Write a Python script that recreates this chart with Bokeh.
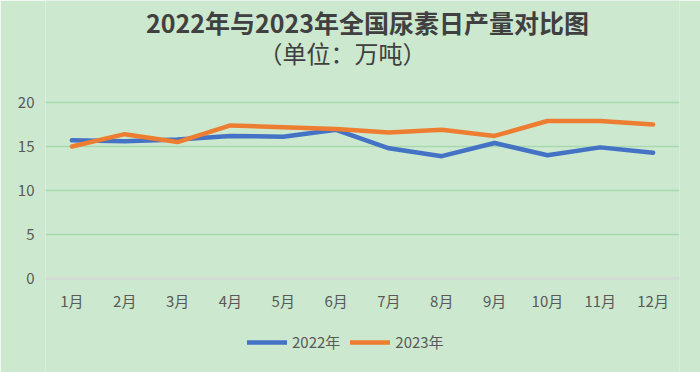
from bokeh.plotting import figure
from bokeh.models import Legend, LegendItem, Label, FactorRange, Span
from bokeh.core.properties import value
from bokeh.embed import file_html
from bokeh.resources import INLINE

months = ["1月", "2月", "3月", "4月", "5月", "6月", "7月", "8月", "9月", "10月", "11月", "12月"]
y2022 = [15.7, 15.6, 15.8, 16.2, 16.1, 16.9, 14.8, 13.9, 15.4, 14.0, 14.9, 14.3]
y2023 = [15.0, 16.4, 15.5, 17.4, 17.2, 17.0, 16.6, 16.9, 16.2, 17.9, 17.9, 17.5]
yticks = [0, 5, 10, 15, 20]
title1 = "2022年与2023年全国尿素日产量对比图"
title2 = "（单位：万吨）"

BG = "#CCE8CF"
FONT = "Noto Sans CJK SC"
TXT = "#595959"

# layout (pixels): plot band 0..20 occupies y 102..278 of a 372px tall frame
H = 372
TOP_PX, ZERO_PX = 102, 278
ppu = (ZERO_PX - TOP_PX) / 20.0
y_lo = -(H - ZERO_PX) / ppu
y_hi = ZERO_PX / ppu

p = figure(frame_width=634, frame_height=H, x_range=FactorRange(*months, range_padding=0),
           y_range=(y_lo, y_hi), output_backend="svg", toolbar_location=None,
           x_axis_location=None,
           min_border_left=45, min_border_right=21, min_border_top=0, min_border_bottom=0)
p.background_fill_color = BG
p.border_fill_color = BG
p.outline_line_color = None

p.add_layout(Span(location=0, dimension="width", line_color="#D9D9D9", line_width=2))

r1 = p.line(months, y2022, line_color="#4472C4", line_width=4.5, line_cap="round", line_join="round")
r2 = p.line(months, y2023, line_color="#ED7D31", line_width=4.5, line_cap="round", line_join="round")

p.text(x=months, y=0, text=months, y_offset=22, text_align="center", text_baseline="middle",
       text_font=value(FONT), text_font_size="15px", text_color=TXT)

p.xgrid.grid_line_color = None
p.ygrid.grid_line_color = "#A8D8AD"
p.ygrid.grid_line_width = 1.5
p.ygrid.bounds = (1, 20)
p.yaxis.ticker = yticks
p.yaxis.axis_line_color = None
p.yaxis.major_tick_line_color = None
p.yaxis.minor_tick_line_color = None
p.yaxis.major_tick_out = 0
p.yaxis.major_label_text_font = FONT
p.yaxis.major_label_text_font_size = "15px"
p.yaxis.major_label_text_color = TXT
p.yaxis.major_label_standoff = 11

p.add_layout(Label(x=322, y=H - 21.5, x_units="screen", y_units="screen", text=title1,
                   text_align="center", text_baseline="middle", text_font=FONT,
                   text_font_size="25px", text_font_style="bold", text_color="#404040"))
p.add_layout(Label(x=297, y=H - 52, x_units="screen", y_units="screen", text=title2,
                   text_align="center", text_baseline="middle", text_font=FONT,
                   text_font_size="24px", text_color="#404040"))

legend = Legend(items=[LegendItem(label="2022年", renderers=[r1]),
                       LegendItem(label="2023年", renderers=[r2])],
                location=(202, 20), orientation="horizontal",
                label_text_font=FONT, label_text_font_size="15px", label_text_color=TXT,
                glyph_width=40, label_standoff=5, spacing=10, padding=0, margin=0,
                border_line_color=None, background_fill_alpha=0)
p.add_layout(legend, "center")

open("out.html", "w").write(file_html(p, INLINE))
